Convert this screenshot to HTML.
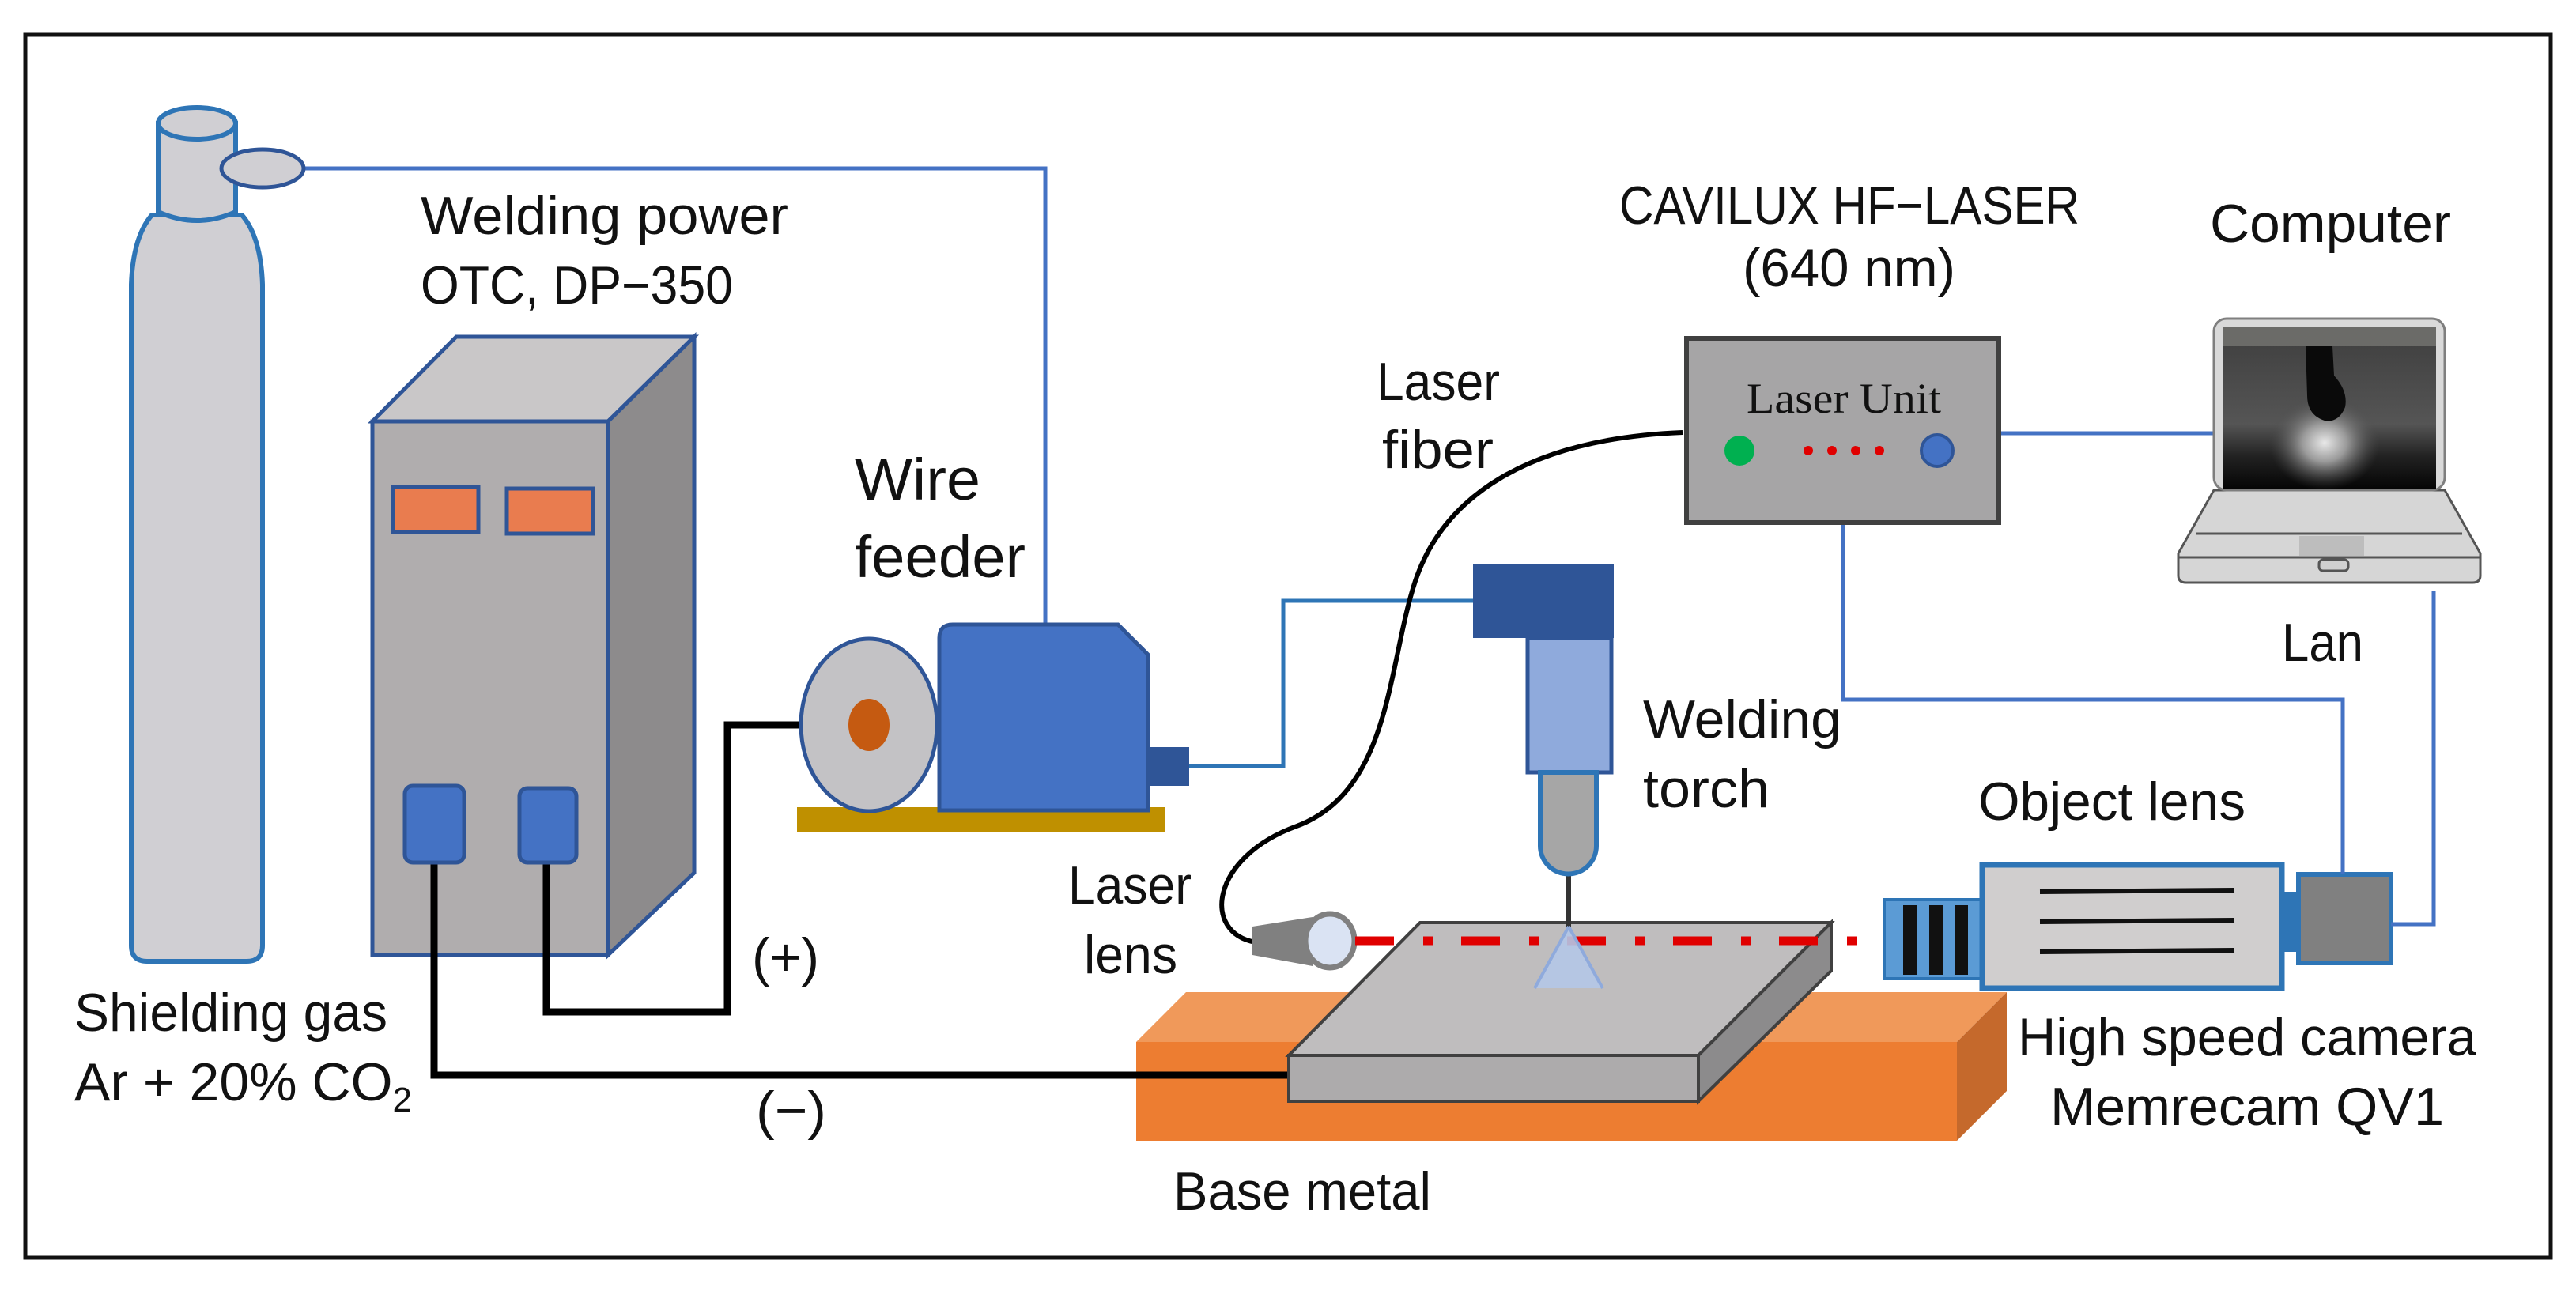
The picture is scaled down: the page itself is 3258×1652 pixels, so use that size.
<!DOCTYPE html>
<html><head><meta charset="utf-8"><style>
html,body{margin:0;padding:0;background:#fff;}
svg{display:block;}
text{font-family:"Liberation Sans",sans-serif;fill:#111;}
</style></head><body>
<svg width="3258" height="1652" viewBox="0 0 3258 1652" xmlns="http://www.w3.org/2000/svg">
<defs>
<radialGradient id="glow" cx="0.5" cy="0.5" r="0.5">
<stop offset="0" stop-color="#e8e8e8"/><stop offset="0.4" stop-color="#9a9a9a"/><stop offset="1" stop-color="#4a4a4a" stop-opacity="0"/>
</radialGradient>
<linearGradient id="scr" x1="0" y1="0" x2="0" y2="1">
<stop offset="0" stop-color="#3e3e3e"/><stop offset="0.6" stop-color="#555"/><stop offset="0.8" stop-color="#222"/><stop offset="1" stop-color="#050505"/>
</linearGradient>
</defs>
<rect x="0" y="0" width="3258" height="1652" fill="#fff"/>
<rect x="32" y="44" width="3194" height="1547" fill="none" stroke="#111" stroke-width="5"/>

<!-- gas line -->
<polyline points="384,213 1322,213 1322,792" fill="none" stroke="#4472c4" stroke-width="5"/>

<!-- cylinder -->
<path d="M186,1216 Q166,1216 166,1196 L166,360 Q168,300 192,272 L306,272 Q330,300 332,360 L332,1196 Q332,1216 312,1216 Z" fill="#d0cfd3" stroke="#2e75b6" stroke-width="6"/>
<path d="M200,156 L200,268 Q249,290 298,268 L298,156 Z" fill="#d0cfd3" stroke="#2e75b6" stroke-width="6"/>
<ellipse cx="249" cy="156" rx="49" ry="20" fill="#d0cfd3" stroke="#2e75b6" stroke-width="6"/>
<ellipse cx="332" cy="213" rx="52" ry="24" fill="#d0cfd3" stroke="#2f5597" stroke-width="5"/>

<!-- power supply -->
<polygon points="471,533 577,426 878,426 769,533" fill="#c9c7c8" stroke="#2f5597" stroke-width="5"/>
<polygon points="769,533 878,426 878,1104 769,1208" fill="#8d8b8c" stroke="#2f5597" stroke-width="5"/>
<rect x="471" y="533" width="298" height="675" fill="#b0adae" stroke="#2f5597" stroke-width="5"/>
<rect x="497" y="616" width="108" height="57" fill="#e97c4f" stroke="#2f5597" stroke-width="5"/>
<rect x="641" y="618" width="109" height="57" fill="#e97c4f" stroke="#2f5597" stroke-width="5"/>

<!-- orange base block -->
<polygon points="1437,1318 1500,1255 2538,1255 2475,1318" fill="#f0995a"/>
<polygon points="2475,1318 2538,1255 2538,1380 2475,1443" fill="#c5692c"/>
<rect x="1437" y="1318" width="1038" height="125" fill="#ed7d31"/>

<!-- black cables -->
<polyline points="549,1070 549,1360 1632,1360" fill="none" stroke="#000" stroke-width="9"/>
<polyline points="691,1070 691,1280 920,1280 920,917 1015,917" fill="none" stroke="#000" stroke-width="9"/>
<rect x="512" y="994" width="75" height="97" rx="10" fill="#4472c4" stroke="#2f5597" stroke-width="5"/>
<rect x="657" y="997" width="72" height="94" rx="10" fill="#4472c4" stroke="#2f5597" stroke-width="5"/>

<!-- wire feeder -->
<rect x="1008" y="1021" width="465" height="31" fill="#bf9000"/>
<ellipse cx="1099" cy="917" rx="86" ry="109" fill="#c3c2c5" stroke="#2f5597" stroke-width="5"/>
<ellipse cx="1099" cy="917" rx="26" ry="33" fill="#c55a11"/>
<path d="M1205,790 L1414,790 L1452,828 L1452,1025 L1188,1025 L1188,807 Q1188,790 1205,790 Z" fill="#4472c4" stroke="#2f5597" stroke-width="5"/>
<rect x="1452" y="945" width="52" height="49" fill="#2f5597"/>
<polyline points="1504,969 1623,969 1623,760 1866,760" fill="none" stroke="#2e75b6" stroke-width="5"/>

<!-- plate -->
<polygon points="1796,1167 2316,1167 2148,1335 1630,1335" fill="#bfbdbe" stroke="#404040" stroke-width="4"/>
<polygon points="2316,1167 2316,1228 2148,1393 2148,1335" fill="#8c8b8c" stroke="#404040" stroke-width="4"/>
<rect x="1630" y="1335" width="518" height="58" fill="#adabac" stroke="#404040" stroke-width="4"/>

<!-- laser fiber -->
<path d="M2128,547 C1930,555 1825,630 1790,735 C1755,840 1760,1000 1640,1045 C1530,1085 1520,1180 1588,1192" fill="none" stroke="#000" stroke-width="6"/>

<!-- laser lens -->
<polygon points="1584,1172 1660,1160 1660,1222 1584,1208" fill="#808080"/>
<ellipse cx="1682" cy="1190" rx="31" ry="34" fill="#dae3f3" stroke="#808080" stroke-width="7"/>

<!-- red laser line -->
<line x1="1714" y1="1190" x2="2383" y2="1190" stroke="#e00000" stroke-width="11" stroke-dasharray="49 37 13 35"/>

<!-- torch -->
<line x1="1984" y1="1100" x2="1984" y2="1172" stroke="#333" stroke-width="6"/>
<polygon points="1984,1172 1941,1250 2027,1250" fill="#b4c7e7" opacity="0.9"/>
<path d="M1984,1172 L1941,1250 M1984,1172 L2027,1250" stroke="#8faadc" stroke-width="4"/>
<rect x="1863" y="713" width="178" height="94" fill="#2f5597"/>
<rect x="1932" y="807" width="106" height="170" fill="#8faadc" stroke="#2f5597" stroke-width="5"/>
<path d="M1948,977 L1948,1070 A35.5,35.5 0 0 0 2019,1070 L2019,977 Z" fill="#a6a6a6" stroke="#2e75b6" stroke-width="6"/>

<!-- camera -->
<rect x="2383" y="1138" width="124" height="100" fill="#5b9bd5" stroke="#2e75b6" stroke-width="4"/>
<rect x="2407" y="1145" width="17" height="88" fill="#111"/>
<rect x="2440" y="1145" width="17" height="88" fill="#111"/>
<rect x="2472" y="1145" width="17" height="88" fill="#111"/>
<rect x="2507" y="1094" width="379" height="156" fill="#d0cece" stroke="#2e75b6" stroke-width="7"/>
<line x1="2580" y1="1128" x2="2826" y2="1126" stroke="#111" stroke-width="6"/>
<line x1="2580" y1="1166" x2="2826" y2="1164" stroke="#111" stroke-width="6"/>
<line x1="2580" y1="1204" x2="2826" y2="1202" stroke="#111" stroke-width="6"/>
<rect x="2889" y="1128" width="18" height="76" fill="#2e75b6"/>
<rect x="2907" y="1106" width="117" height="112" fill="#808080" stroke="#2e75b6" stroke-width="6"/>

<!-- data lines -->
<polyline points="2331,661 2331,885 2963,885 2963,1106" fill="none" stroke="#4472c4" stroke-width="5"/>
<polyline points="3078,747 3078,1169 3024,1169" fill="none" stroke="#4472c4" stroke-width="5"/>
<line x1="2528" y1="548" x2="2801" y2="548" stroke="#4472c4" stroke-width="5"/>

<!-- laser unit -->
<rect x="2133" y="428" width="395" height="233" fill="#a6a5a6" stroke="#404040" stroke-width="6"/>
<text x="2332" y="522" text-anchor="middle" style="font-family:'Liberation Serif',serif;font-size:54px" textLength="246" lengthAdjust="spacingAndGlyphs">Laser Unit</text>
<circle cx="2200" cy="570" r="19" fill="#00b050"/>
<circle cx="2287" cy="570" r="6" fill="#e00000"/>
<circle cx="2317" cy="570" r="6" fill="#e00000"/>
<circle cx="2347" cy="570" r="6" fill="#e00000"/>
<circle cx="2377" cy="570" r="6" fill="#e00000"/>
<circle cx="2450" cy="570" r="20" fill="#4472c4" stroke="#2f5597" stroke-width="4"/>

<!-- laptop -->
<path d="M2800,620 L2755,700 L2755,728 Q2755,737 2765,737 L3127,737 Q3137,737 3137,728 L3137,700 L3092,620 Z" fill="#d6d6d6" stroke="#555" stroke-width="3"/>
<line x1="2778" y1="675" x2="3114" y2="675" stroke="#555" stroke-width="3"/>
<line x1="2755" y1="705" x2="3137" y2="705" stroke="#555" stroke-width="3"/>
<rect x="2908" y="678" width="82" height="25" fill="#bdbdbd"/>
<rect x="2933" y="708" width="37" height="14" rx="5" fill="#d0d0d0" stroke="#555" stroke-width="3"/>
<rect x="2800" y="403" width="292" height="217" rx="16" fill="#d9d9d9" stroke="#7f7f7f" stroke-width="3"/>
<rect x="2811" y="414" width="270" height="204" fill="url(#scr)"/>
<rect x="2811" y="414" width="270" height="24" fill="#6b6b68"/>
<ellipse cx="2940" cy="560" rx="70" ry="60" fill="url(#glow)"/>
<path d="M2916,438 L2950,438 L2952,475 Q2970,495 2966,515 Q2958,535 2940,532 Q2918,525 2918,500 Z" fill="#0a0a0a"/>

<!-- labels -->
<g style="font-size:68px">
<text x="532" y="296" textLength="465" lengthAdjust="spacingAndGlyphs">Welding power</text>
<text x="532" y="384" textLength="395" lengthAdjust="spacingAndGlyphs">OTC, DP−350</text>
<text x="1081" y="632" textLength="159" lengthAdjust="spacingAndGlyphs" style="font-size:74px">Wire</text>
<text x="1081" y="730" textLength="216" lengthAdjust="spacingAndGlyphs" style="font-size:74px">feeder</text>
<text x="94" y="1304" textLength="396" lengthAdjust="spacingAndGlyphs">Shielding gas</text>
<text x="94" y="1392">Ar + 20% CO<tspan style="font-size:44px" dy="14">2</tspan></text>
<text x="951" y="1234" textLength="85" lengthAdjust="spacingAndGlyphs">(+)</text>
<text x="956" y="1428" textLength="89" lengthAdjust="spacingAndGlyphs">(−)</text>
<text x="1351" y="1143" textLength="156" lengthAdjust="spacingAndGlyphs">Laser</text>
<text x="1371" y="1231" textLength="118" lengthAdjust="spacingAndGlyphs">lens</text>
<text x="2048" y="283" textLength="582" lengthAdjust="spacingAndGlyphs">CAVILUX HF−LASER</text>
<text x="2204" y="362" textLength="269" lengthAdjust="spacingAndGlyphs">(640 nm)</text>
<text x="1741" y="506" textLength="156" lengthAdjust="spacingAndGlyphs">Laser</text>
<text x="1748" y="592" textLength="141" lengthAdjust="spacingAndGlyphs">fiber</text>
<text x="2795" y="306" textLength="305" lengthAdjust="spacingAndGlyphs">Computer</text>
<text x="2886" y="836" textLength="103" lengthAdjust="spacingAndGlyphs">Lan</text>
<text x="2078" y="933" textLength="251" lengthAdjust="spacingAndGlyphs">Welding</text>
<text x="2078" y="1021" textLength="160" lengthAdjust="spacingAndGlyphs">torch</text>
<text x="2502" y="1037" textLength="338" lengthAdjust="spacingAndGlyphs">Object lens</text>
<text x="2552" y="1335" textLength="580" lengthAdjust="spacingAndGlyphs">High speed camera</text>
<text x="2593" y="1423" textLength="498" lengthAdjust="spacingAndGlyphs">Memrecam QV1</text>
<text x="1484" y="1530" textLength="326" lengthAdjust="spacingAndGlyphs">Base metal</text>
</g>
</svg>
</body></html>
